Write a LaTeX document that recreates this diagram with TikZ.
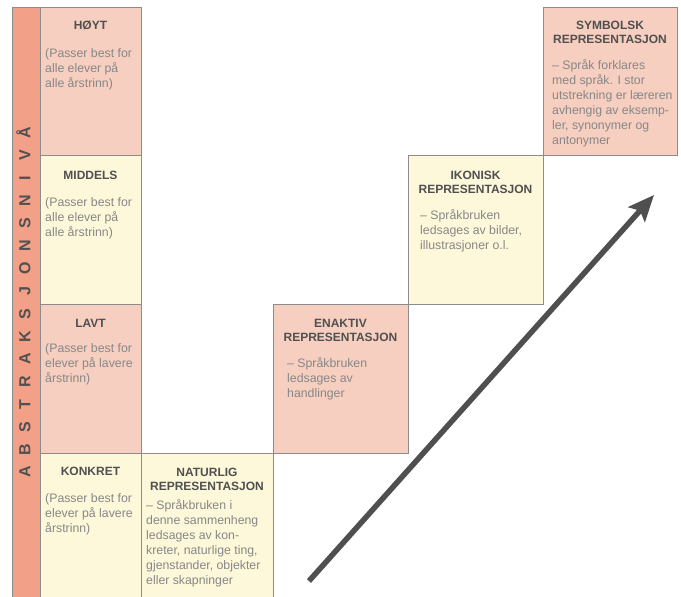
\documentclass[tikz,border=0pt]{standalone}
\usepackage{fontspec}
\setmainfont{Liberation Sans}
\usetikzlibrary{arrows.meta}
\definecolor{pinkc}{HTML}{F6CFC0}
\definecolor{yellc}{HTML}{FDF8DA}
\definecolor{barc}{HTML}{F2A088}
\definecolor{edgec}{HTML}{8C8C8C}
\definecolor{titc}{HTML}{505050}
\definecolor{bodc}{HTML}{878787}
\definecolor{arrc}{HTML}{4F4F4F}
\newcommand\ttl[2]{\parbox[t]{#1}{\centering\fontsize{12}{14}\selectfont\bfseries #2}}
\newcommand\bdy[1]{\parbox[t]{200pt}{\raggedright\fontsize{12.3}{15}\selectfont #1}}
\newcommand\vl[1]{\makebox[22.6pt]{#1}}
\begin{document}
\begin{tikzpicture}[x=1pt,y=-1pt,
  box/.style={draw=edgec, line width=1pt, anchor=north west, inner sep=0pt},
  titlenode/.style={anchor=base, inner sep=0pt, text=titc},
  bodynode/.style={anchor=base west, inner sep=0pt, text=bodc},
  arrowline/.style={draw=arrc, line width=5.5pt, -{Stealth[length=26pt, width=22pt, inset=5pt]}}]
\useasboundingbox (0,0) rectangle (681,597);
\clip (0,0) rectangle (681,597);
\fill[white] (0,0) rectangle (681,597);
% left bar
\node[box, fill=barc, minimum width=28pt, minimum height=600pt] (bar) at (12,7) {};
\node[anchor=base, rotate=90, inner sep=0pt, text=titc, font=\fontsize{16}{16}\selectfont\bfseries] (abs) at (30.5,302.5)
  {\vl{A}\vl{B}\vl{S}\vl{T}\vl{R}\vl{A}\vl{K}\vl{S}\vl{J}\vl{O}\vl{N}\vl{S}\vl{N}\vl{I}\vl{V}\vl{Å}};
% left column
\node[box, fill=pinkc, minimum width=101pt, minimum height=148pt] (hoyt) at (40,7) {};
\node[box, fill=yellc, minimum width=101pt, minimum height=149pt] (middels) at (40,155) {};
\node[box, fill=pinkc, minimum width=101pt, minimum height=149pt] (lavt) at (40,304) {};
\node[box, fill=yellc, minimum width=101pt, minimum height=150pt] (konkret) at (40,453) {};
\node[titlenode] (hoytT) at (90.5,30) {\ttl{101pt}{HØYT}};
\node[bodynode] (hoytB) at (45,57) {\bdy{(Passer best for\\alle elever på\\alle årstrinn)}};
\node[titlenode] (middelsT) at (90.5,179) {\ttl{101pt}{MIDDELS}};
\node[bodynode] (middelsB) at (45,206) {\bdy{(Passer best for\\alle elever på\\alle årstrinn)}};
\node[titlenode] (lavtT) at (90.5,327) {\ttl{101pt}{LAVT}};
\node[bodynode] (lavtB) at (45,352) {\bdy{(Passer best for\\elever på lavere\\årstrinn)}};
\node[titlenode] (konkretT) at (90.5,475) {\ttl{101pt}{KONKRET}};
\node[bodynode] (konkretB) at (45,502) {\bdy{(Passer best for\\elever på lavere\\årstrinn)}};
% staircase
\node[box, fill=yellc, minimum width=132pt, minimum height=150pt] (natur) at (141,453) {};
\node[box, fill=pinkc, minimum width=135pt, minimum height=149pt] (enakt) at (273,304) {};
\node[box, fill=yellc, minimum width=135pt, minimum height=149pt] (ikon) at (408,155) {};
\node[box, fill=pinkc, minimum width=134pt, minimum height=148pt] (symb) at (543,7) {};
\node[titlenode] (naturT) at (207,476) {\ttl{132pt}{NATURLIG\\REPRESENTASJON}};
\node[bodynode] (naturB) at (146,509) {\bdy{– Språkbruken i\\denne sammenheng\\ledsages av kon-\\kreter, naturlige ting,\\gjenstander, objekter\\eller skapninger}};
\node[titlenode] (enaktT) at (340.5,327) {\ttl{135pt}{ENAKTIV\\REPRESENTASJON}};
\node[bodynode] (enaktB) at (287,367) {\bdy{– Språkbruken\\ledsages av\\handlinger}};
\node[titlenode] (ikonT) at (475.5,179) {\ttl{135pt}{IKONISK\\REPRESENTASJON}};
\node[bodynode] (ikonB) at (420,219) {\bdy{– Språkbruken\\ledsages av bilder,\\illustrasjoner o.l.}};
\node[titlenode] (symbT) at (610,29) {\ttl{134pt}{SYMBOLSK\\REPRESENTASJON}};
\node[bodynode] (symbB) at (552,69) {\bdy{– Språk forklares\\med språk. I stor\\utstrekning er læreren\\avhengig av eksemp-\\ler, synonymer og\\antonymer}};
% arrow
\coordinate (arrS) at (309,581);
\coordinate (arrE) at (654,195);
\draw[arrowline] (arrS) -- (arrE);
\end{tikzpicture}
\end{document}
